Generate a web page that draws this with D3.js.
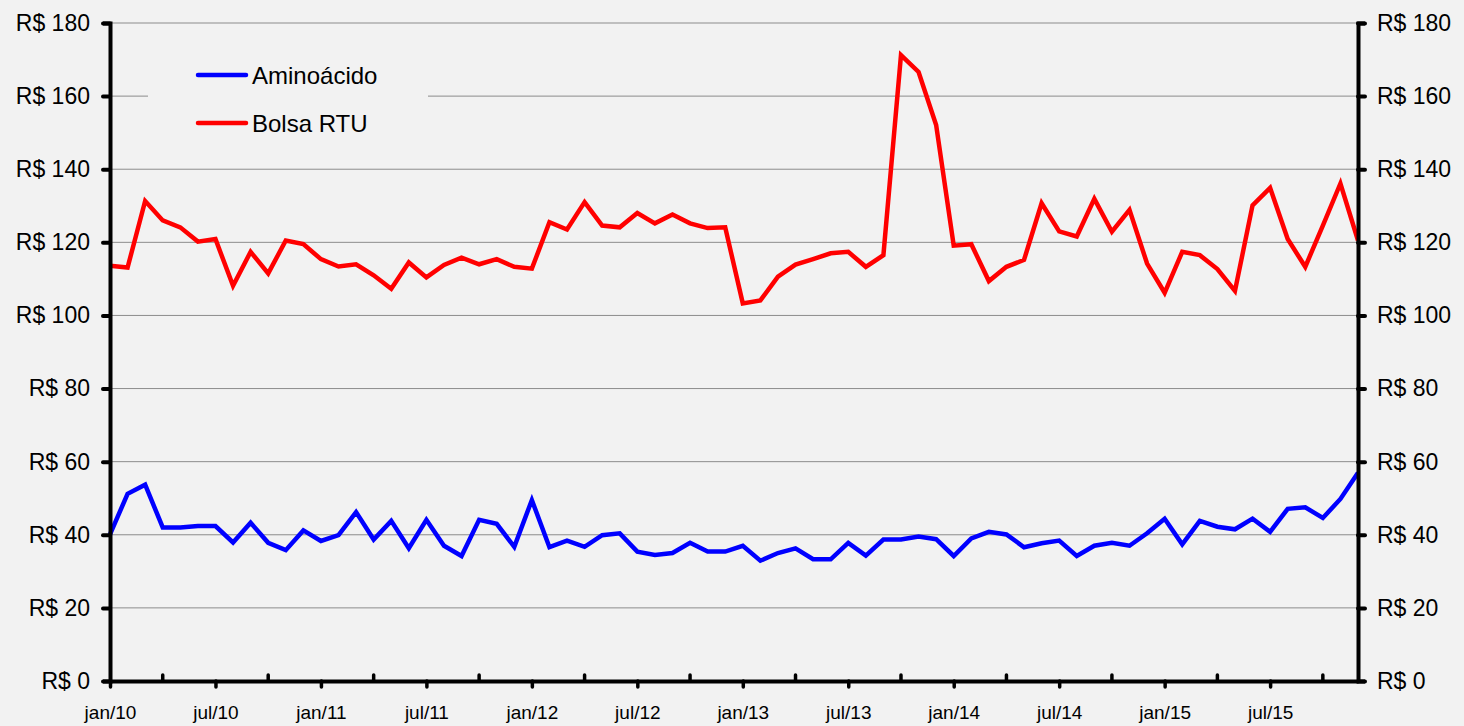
<!DOCTYPE html>
<html>
<head>
<meta charset="utf-8">
<script src="https://cdn.jsdelivr.net/npm/d3@7"></script>
<style>
  html, body { margin: 0; padding: 0; background: #f2f2f2; }
  svg { display: block; font-family: "Liberation Sans", Arial, sans-serif; }
</style>
</head>
<body>
<div class="container"></div>
<script>
const w = 1464;
const h = 726;
const margin = { top: 23, right: 106, bottom: 45, left: 110 };

const mesNomes = ["jan","fev","mar","abr","mai","jun","jul","ago","set","out","nov","dez"];
const anos = ["10","11","12","13","14","15"];
const meses = [];
anos.forEach(a => mesNomes.forEach(m => meses.push(m + "/" + a)));

const rotulosX = ["jan/10","jul/10","jan/11","jul/11","jan/12","jul/12","jan/13","jul/13","jan/14","jul/14","jan/15","jul/15"];
const ticksMenores = ["abr/10","out/10","abr/11","out/11","abr/12","out/12","abr/13","out/13","abr/14","out/14","abr/15","out/15"];
const ticksY = [0, 20, 40, 60, 80, 100, 120, 140, 160, 180];

const aminoacido = [
  40.1, 51.2, 53.7, 42.0, 42.0, 42.4, 42.4, 37.9, 43.3, 37.8, 35.8, 41.2,
  38.3, 39.9, 46.2, 38.7, 43.8, 36.3, 44.1, 37.0, 34.2, 44.1, 43.0, 36.7,
  49.5, 36.6, 38.4, 36.7, 39.9, 40.4, 35.4, 34.5, 35.0, 37.8, 35.4, 35.4,
  37.0, 32.9, 35.0, 36.3, 33.3, 33.3, 37.8, 34.3, 38.7, 38.7, 39.5, 38.8,
  34.2, 39.0, 40.8, 40.1, 36.6, 37.7, 38.4, 34.2, 37.0, 37.8, 37.0, 40.4,
  44.4, 37.4, 43.8, 42.2, 41.5, 44.4, 40.8, 47.1, 47.5, 44.6, 49.8, 57.0
];
const bolsaRTU = [
  113.6, 113.1, 131.3, 126.0, 124.1, 120.2, 120.9, 108.1, 117.4, 111.5, 120.5, 119.5,
  115.4, 113.4, 114.0, 111.0, 107.3, 114.5, 110.4, 113.8, 115.8, 114.0, 115.4, 113.3,
  112.8, 125.5, 123.5, 131.0, 124.6, 124.1, 128.0, 125.2, 127.6, 125.2, 123.9, 124.1,
  103.3, 104.1, 110.6, 113.9, 115.4, 117.0, 117.4, 113.3, 116.5, 171.2, 166.6, 152.1,
  119.1, 119.5, 109.4, 113.3, 115.2, 130.7, 123.0, 121.6, 131.9, 122.9, 128.9, 114.2,
  106.2, 117.4, 116.5, 112.7, 106.7, 130.1, 134.9, 120.9, 113.3, 124.6, 136.1, 120.5
];

const series = [
  { nome: "Aminoácido", valores: aminoacido, cor: "#0000ff" },
  { nome: "Bolsa RTU", valores: bolsaRTU, cor: "#ff0000" }
];

const svg = d3.select(".container").append("svg")
  .attr("width", w)
  .attr("height", h);

const x = d3.scalePoint()
  .domain(meses)
  .range([margin.left, w - margin.right]);

const y = d3.scaleLinear()
  .domain([0, 180])
  .range([h - margin.bottom, margin.top]);

// gridlines
svg.append("g")
  .selectAll("line")
  .data(ticksY.filter(d => d > 0))
  .enter()
  .append("line")
  .attr("x1", margin.left)
  .attr("x2", w - margin.right)
  .attr("y1", d => y(d))
  .attr("y2", d => y(d))
  .attr("stroke", "#8c8c8c")
  .attr("stroke-width", 1);

// legend box covers the grid under it
svg.append("rect")
  .attr("x", 148)
  .attr("y", 45)
  .attr("width", 280)
  .attr("height", 105)
  .attr("fill", "#f2f2f2");

// lines
const line = d3.line()
  .x((d, i) => x(meses[i]))
  .y(d => y(d));

series.forEach(s => {
  svg.append("path")
    .datum(s.valores)
    .attr("d", line)
    .attr("fill", "none")
    .attr("stroke", s.cor)
    .attr("stroke-width", 4.5)
    .attr("stroke-linejoin", "miter");
});

// y axes
const fmt = d => "R$ " + d;
const yLeft = d3.axisLeft(y).tickValues(ticksY).tickFormat(fmt).tickSize(7).tickPadding(13);
const yRight = d3.axisRight(y).tickValues(ticksY).tickFormat(fmt).tickSize(7).tickPadding(12);

const gl = svg.append("g")
  .attr("transform", "translate(" + margin.left + ",0)")
  .call(yLeft);
const gr = svg.append("g")
  .attr("transform", "translate(" + (w - margin.right) + ",0)")
  .call(yRight);

[gl, gr].forEach(g => {
  g.select(".domain").attr("stroke", "#000").attr("stroke-width", 4);
  g.selectAll(".tick line").attr("stroke", "#000").attr("stroke-width", 4)
    .attr("stroke-linecap", "round");
  g.selectAll(".tick text").attr("fill", "#000").style("font-size", "23px")
    .style("font-family", "'Liberation Sans', Arial, sans-serif");
});

// x axis
const xAxis = d3.axisBottom(x)
  .tickValues(rotulosX)
  .tickSize(6)
  .tickPadding(22)
  .tickSizeOuter(0);

const gx = svg.append("g")
  .attr("transform", "translate(0," + (h - margin.bottom) + ")")
  .call(xAxis);
gx.select(".domain").attr("stroke", "#000").attr("stroke-width", 4);
gx.selectAll(".tick line").attr("stroke", "#000").attr("stroke-width", 3.5)
  .attr("stroke-linecap", "round");
gx.selectAll(".tick text").attr("fill", "#000").style("font-size", "19px")
  .attr("dy", "0.5em")
  .style("font-family", "'Liberation Sans', Arial, sans-serif");

// minor ticks point inward
gx.selectAll(".menor")
  .data(ticksMenores)
  .enter()
  .append("line")
  .attr("class", "menor")
  .attr("x1", d => x(d))
  .attr("x2", d => x(d))
  .attr("y1", 0)
  .attr("y2", -6)
  .attr("stroke", "#000")
  .attr("stroke-width", 3.5)
  .attr("stroke-linecap", "round");

// legend
const leg = svg.append("g").attr("transform", "translate(198,75)");
series.forEach((s, i) => {
  const g = leg.append("g").attr("transform", "translate(0," + (i * 48) + ")");
  g.append("line")
    .attr("x1", 0).attr("x2", 48)
    .attr("y1", 0).attr("y2", 0)
    .attr("stroke", s.cor)
    .attr("stroke-width", 4.5)
    .attr("stroke-linecap", "round");
  g.append("text")
    .attr("x", 54)
    .attr("y", 8.5)
    .style("font-size", "24px")
    .attr("fill", "#000")
    .text(s.nome);
});
</script>
</body>
</html>
